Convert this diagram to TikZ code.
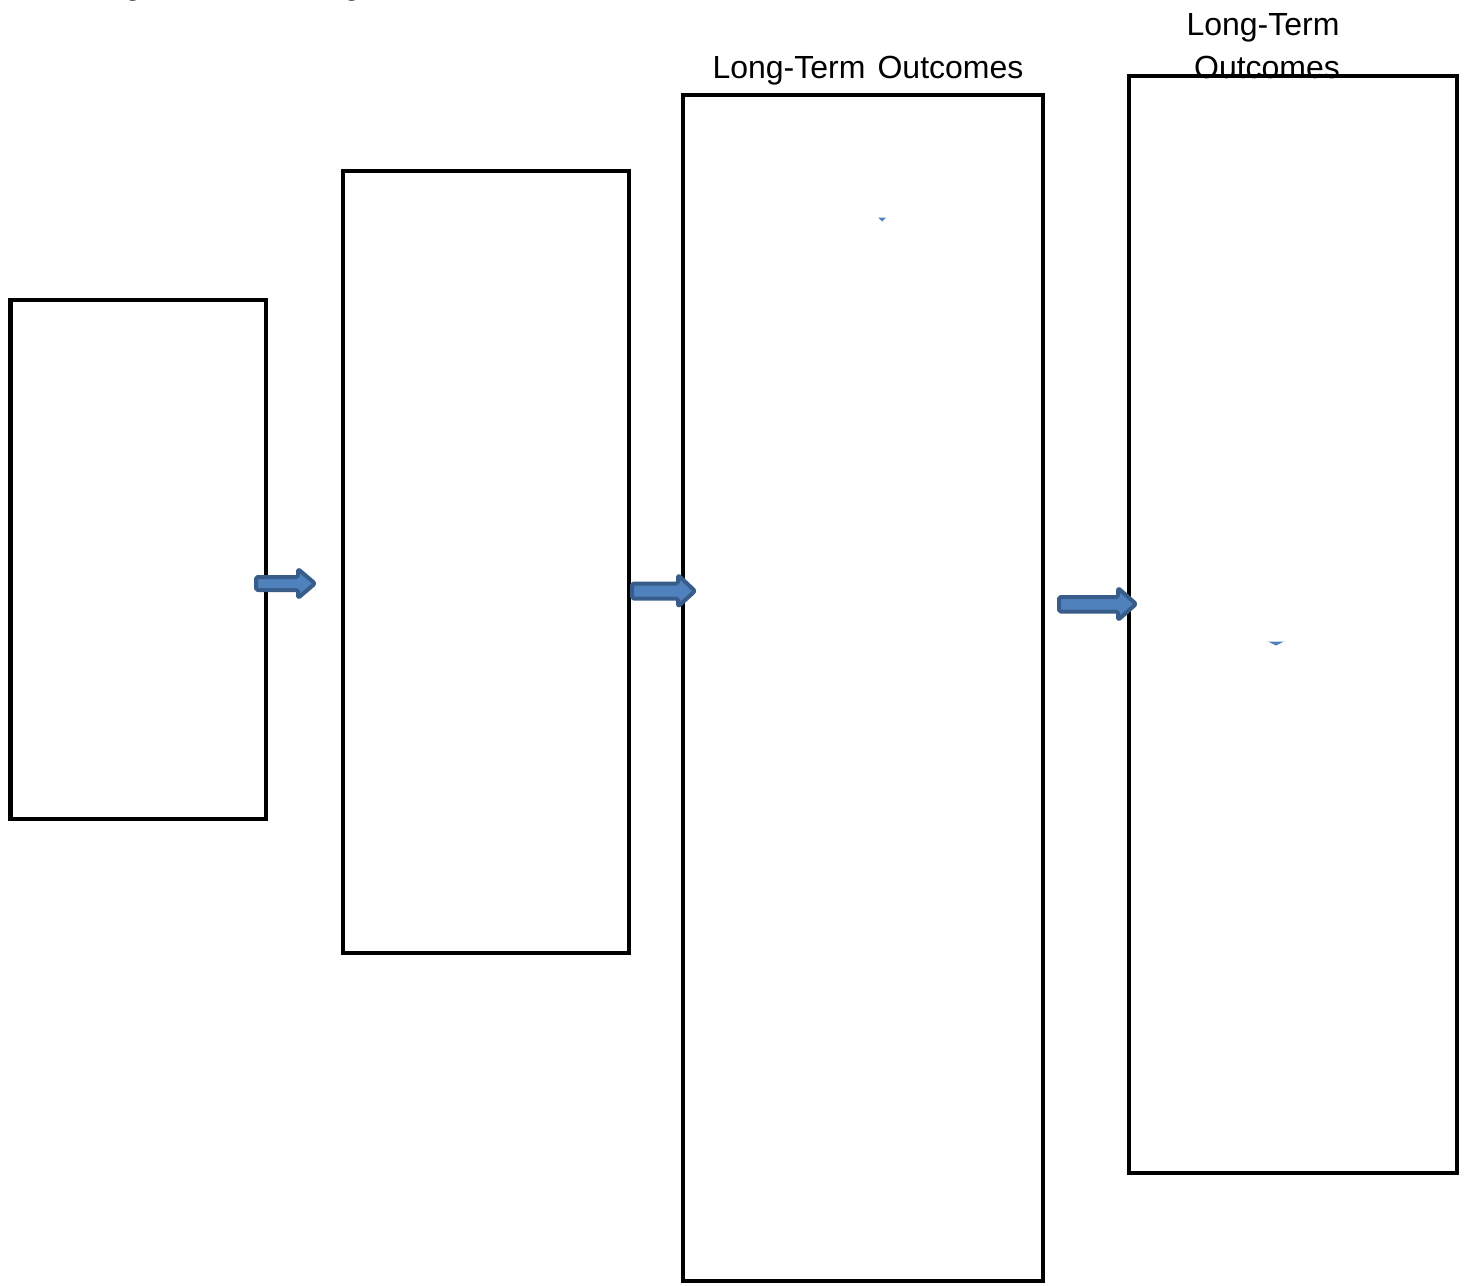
\documentclass[tikz,border=0pt]{standalone}
\usepackage{fontspec}
\setmainfont{Liberation Sans}
\begin{document}
\begin{tikzpicture}[x=0.5pt,y=-0.5pt,
  box/.style={draw=black,line width=2.4pt,fill=none},
  blockarrow/.style={draw={rgb,255:red,56;green,93;blue,138},fill={rgb,255:red,79;green,129;blue,189},line width=2pt,line join=round,rounded corners=0.8pt},
  tinymark/.style={fill={rgb,255:red,79;green,129;blue,189},draw=none},
  lbl/.style={font=\fontsize{16}{21.5}\selectfont,inner sep=0pt,anchor=base,align=center}]
\useasboundingbox (0,0) rectangle (1465,1285);
% text fragments cut off at the top edge (as in the reference)
\node[lbl] (g1) at (133,-5) {g};
\node[lbl] (g2) at (352,-5) {g};
% titles
\node[lbl] (t3) at (868,78) {Long-Term\hspace{0.1em} Outcomes};
\node[lbl] (t4a) at (1263,35) {Long-Term};
\node[lbl] (t4b) at (1267,78) {Outcomes};
% boxes
\draw[box] (10.5,300) rectangle (266,819);
\draw[box] (343,171) rectangle (629,953);
\draw[box] (683,95) rectangle (1043,1281);
\draw[box] (1129,76) rectangle (1457,1173);
% block arrows
\draw[blockarrow] (256,577) -- (298,577) -- (298,569) -- (315,583.5) -- (298,598) -- (298,590) -- (256,590) -- cycle;
\draw[blockarrow] (632,583.5) -- (678,583.5) -- (678,575) -- (695,591) -- (678,606.5) -- (678,598.5) -- (632,598.5) -- cycle;
\draw[blockarrow] (1059,597) -- (1118,597) -- (1118,588) -- (1136,604) -- (1118,620) -- (1118,611.5) -- (1059,611.5) -- cycle;
% tiny marks
\fill[tinymark] (878,217.5) -- (886,217.5) -- (882,221.5) -- cycle;
\fill[tinymark] (1268,641.5) -- (1284,641.5) -- (1276,645.5) -- cycle;
\end{tikzpicture}
\end{document}
